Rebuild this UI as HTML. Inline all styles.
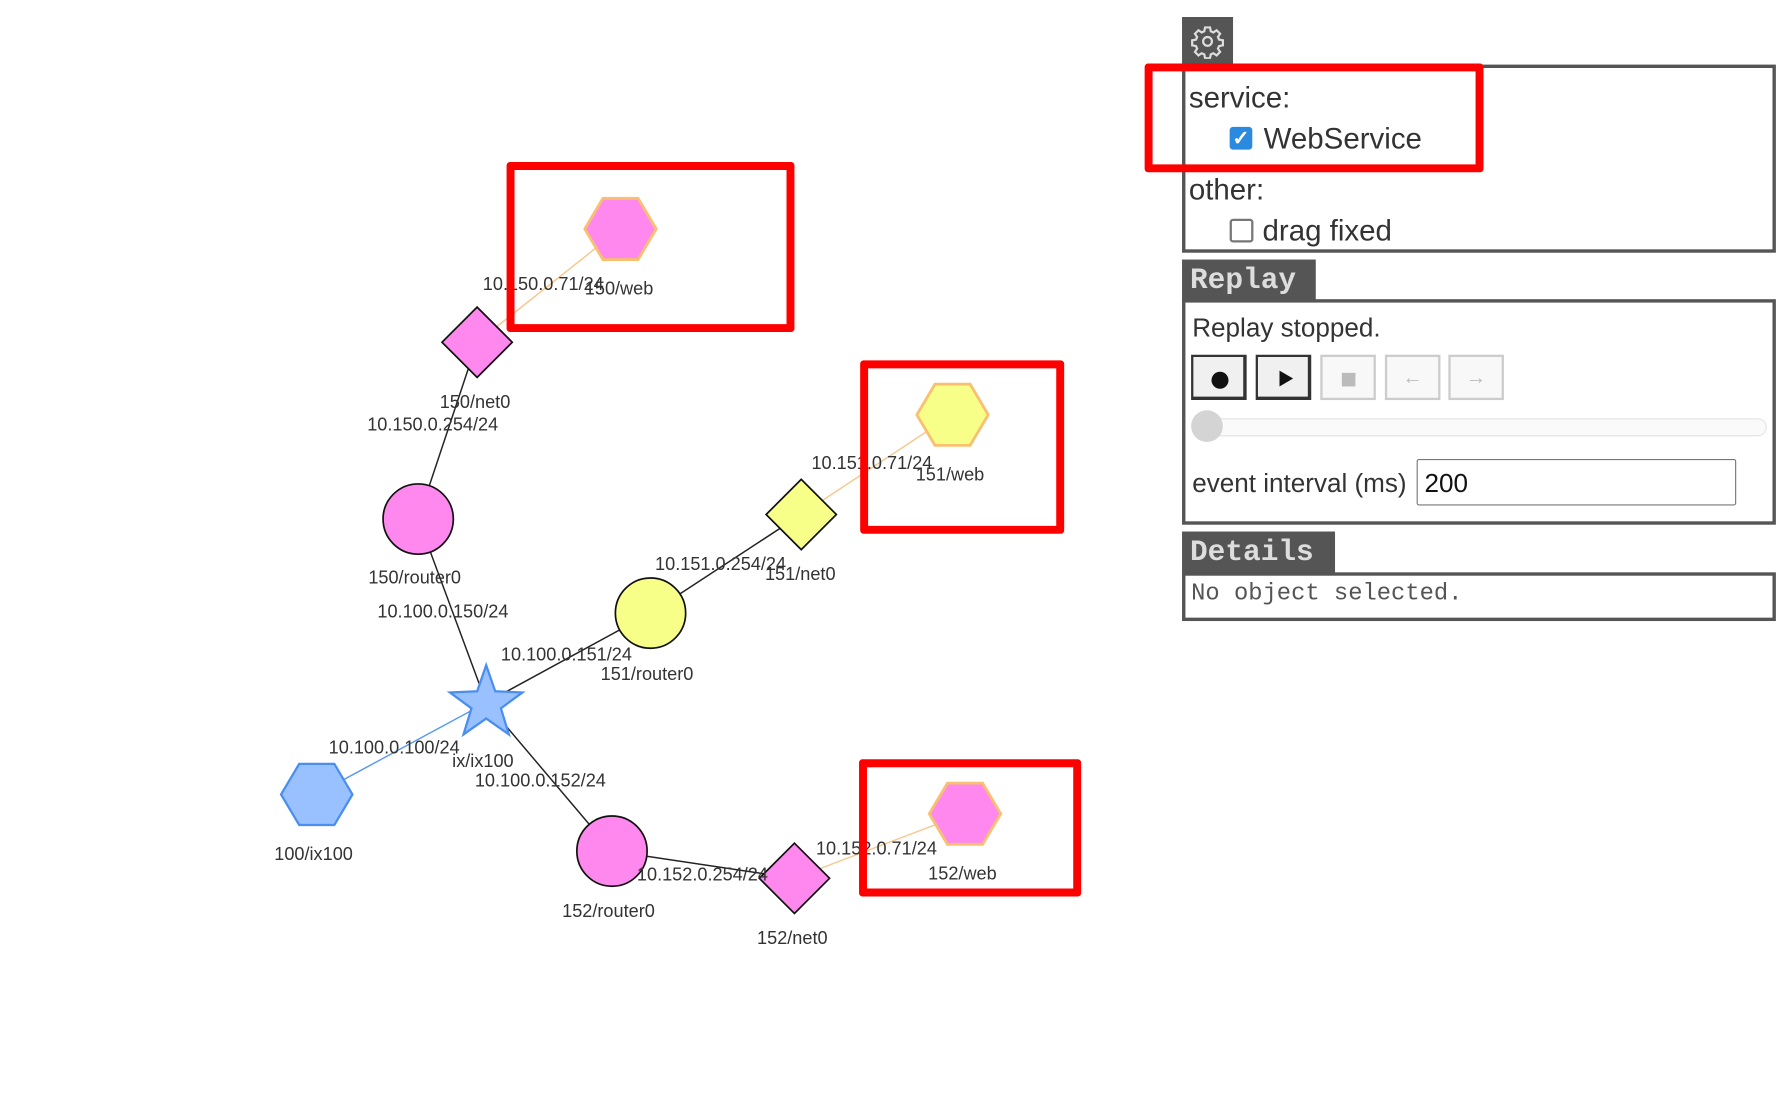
<!DOCTYPE html>
<html><head><meta charset="utf-8"><style>
body{margin:0;background:#fff;overflow:hidden}
#w{position:absolute;left:0;top:0;width:1568px;height:975px;transform:scale(1.1333);transform-origin:0 0;font-family:"Liberation Sans",sans-serif}
.a{position:absolute}
.box{position:absolute;border:3px solid #555;box-sizing:border-box}
.tab{position:absolute;background:#555;color:#ddd;font-family:"Liberation Mono",monospace;font-weight:bold;font-size:26px;box-sizing:border-box;padding-left:7px;line-height:36px}
.t{position:absolute;font-size:26px;color:#333;white-space:nowrap}
.btn{position:absolute;top:313px;width:49px;height:40px;box-sizing:border-box;background:#f0f0f0;border:2px solid #333;border-right-width:3px;border-bottom-width:3px}
.btn.d{border:2px solid #ccc;background:#f8f8f8}
.red{position:absolute;border:7px solid #f00;border-radius:3px;box-sizing:border-box}
svg text{font-family:"Liberation Sans",sans-serif;font-size:16px;fill:#333}
</style></head><body><div id="w">
<svg class="a" style="left:0;top:0" width="1000" height="975">
<g stroke-width="1.3">
<line x1="547" y1="202" x2="421" y2="302" stroke="#f8c890"/>
<line x1="840" y1="366" x2="707" y2="454" stroke="#f8c890"/>
<line x1="851" y1="718" x2="701" y2="775" stroke="#f8c890"/>
<line x1="421" y1="302" x2="369" y2="458" stroke="#222"/>
<line x1="707" y1="454" x2="574" y2="541" stroke="#222"/>
<line x1="701" y1="775" x2="540" y2="751" stroke="#222"/>
<line x1="369" y1="458" x2="429" y2="620" stroke="#222"/>
<line x1="574" y1="541" x2="429" y2="620" stroke="#222"/>
<line x1="540" y1="751" x2="429" y2="620" stroke="#222"/>
<line x1="279" y1="701" x2="429" y2="620" stroke="#5a9af0"/>
</g>
<g stroke="#f8c070" stroke-width="2.5">
<polygon points="516,202 532,175 563,175 579,202 563,229 532,229" fill="#ff88ee"/>
<polygon points="809,366 825,339 856,339 872,366 856,393 825,393" fill="#f8ff88"/>
<polygon points="820,718 836,691 867,691 883,718 867,745 836,745" fill="#ff88ee"/>
</g>
<polygon points="248,701 264,674 295,674 311,701 295,728 264,728" fill="#99c0ff" stroke="#4a8ef0" stroke-width="2"/>
<g stroke="#111" stroke-width="1.5">
<polygon points="421,271 452,302 421,333 390,302" fill="#ff88ee"/>
<polygon points="707,423 738,454 707,485 676,454" fill="#f8ff88"/>
<polygon points="701,744 732,775 701,806 670,775" fill="#ff88ee"/>
<circle cx="369" cy="458" r="31" fill="#ff88ee"/>
<circle cx="574" cy="541" r="31" fill="#f8ff88"/>
<circle cx="540" cy="751" r="31" fill="#ff88ee"/>
</g>
<polygon points="429,587 437,610 461,611 442,625 449,648 429,634 409,648 416,625 397,611 421,610" fill="#99c0ff" stroke="#4a8ef0" stroke-width="2"/>
<text x="426" y="256">10.150.0.71/24</text><text x="516" y="260">150/web</text>
<text x="388" y="360">150/net0</text><text x="324" y="380">10.150.0.254/24</text>
<text x="325" y="515">150/router0</text><text x="333" y="545">10.100.0.150/24</text>
<text x="716" y="414">10.151.0.71/24</text><text x="808" y="424">151/web</text>
<text x="578" y="503">10.151.0.254/24</text><text x="675" y="512">151/net0</text>
<text x="442" y="583">10.100.0.151/24</text><text x="530" y="600">151/router0</text>
<text x="290" y="665">10.100.0.100/24</text><text x="399" y="677">ix/ix100</text>
<text x="419" y="694">10.100.0.152/24</text>
<text x="242" y="759">100/ix100</text>
<text x="720" y="754">10.152.0.71/24</text><text x="819" y="776">152/web</text>
<text x="562" y="777">10.152.0.254/24</text>
<text x="496" y="809">152/router0</text><text x="668" y="833">152/net0</text>
</svg>
<div class="red" style="left:447px;top:143px;width:254px;height:150px"></div>
<div class="red" style="left:759px;top:318px;width:180px;height:153px"></div>
<div class="red" style="left:758px;top:670px;width:196px;height:121px"></div>

<div class="a" style="left:1043px;top:15px;width:45px;height:43px;background:#555"></div>
<svg class="a" style="left:1050px;top:21px" width="31" height="31" viewBox="0 0 24 24" fill="none" stroke="#ddd" stroke-width="1.5"><circle cx="12" cy="12" r="3"/><path d="M10.3 2.5h3.4l.5 2.6 1.8.8 2.2-1.5 2.4 2.4-1.5 2.2.8 1.8 2.6.5v3.4l-2.6.5-.8 1.8 1.5 2.2-2.4 2.4-2.2-1.5-1.8.8-.5 2.6h-3.4l-.5-2.6-1.8-.8-2.2 1.5-2.4-2.4 1.5-2.2-.8-1.8-2.6-.5v-3.4l2.6-.5.8-1.8-1.5-2.2 2.4-2.4 2.2 1.5 1.8-.8z"/></svg>
<div class="box" style="left:1043px;top:57px;width:524px;height:166px"></div>
<div class="t" style="left:1049px;top:71px">service:</div>
<div class="a" style="left:1085px;top:112px;width:20px;height:20px;background:#2a8ae0;border-radius:3px;color:#fff;font-size:18px;line-height:20px;text-align:center;font-weight:bold">✓</div>
<div class="t" style="left:1115px;top:107px">WebService</div>
<div class="t" style="left:1049px;top:152px">other:</div>
<div class="a" style="left:1085px;top:193px;width:17px;height:17px;border:2px solid #777;border-radius:3px"></div>
<div class="t" style="left:1114px;top:188px">drag fixed</div>
<div class="red" style="left:1010px;top:56px;width:299px;height:96px"></div>

<div class="tab" style="left:1043px;top:229px;width:118px;height:37px">Replay</div>
<div class="box" style="left:1043px;top:264px;width:524px;height:199px"></div>
<div class="t" style="left:1052px;top:276px;font-size:23px">Replay stopped.</div>
<div class="btn" style="left:1051px"><div class="a" style="left:16px;top:13px;width:15px;height:15px;border-radius:50%;background:#111"></div></div>
<div class="btn" style="left:1108px"><div class="a" style="left:19px;top:12px;border-left:12px solid #111;border-top:7px solid transparent;border-bottom:7px solid transparent"></div></div>
<div class="btn d" style="left:1165px"><div class="a" style="left:17px;top:14px;width:12px;height:12px;background:#bbb"></div></div>
<div class="btn d" style="left:1222px;color:#bbb;text-align:center;line-height:36px;font-size:18px">←</div>
<div class="btn d" style="left:1278px;color:#bbb;text-align:center;line-height:36px;font-size:18px">→</div>
<div class="a" style="left:1052px;top:369px;width:505px;height:14px;border:1px solid #e4e4e4;border-radius:8px;background:#fafafa"></div>
<div class="a" style="left:1051px;top:362px;width:28px;height:28px;border-radius:50%;background:#d4d4d4"></div>
<div class="t" style="left:1052px;top:413px;font-size:23px">event interval (ms)</div>
<div class="a" style="left:1250px;top:405px;width:282px;height:41px;border:1px solid #777;border-radius:2px;box-sizing:border-box;font-size:23px;padding:7px 6px;color:#111">200</div>

<div class="tab" style="left:1043px;top:469px;width:135px;height:38px">Details</div>
<div class="box" style="left:1043px;top:505px;width:524px;height:43px"></div>
<div class="t" style="left:1051px;top:513px;font-family:'Liberation Mono',monospace;font-size:21px;color:#555">No object selected.</div>
</div></body></html>
